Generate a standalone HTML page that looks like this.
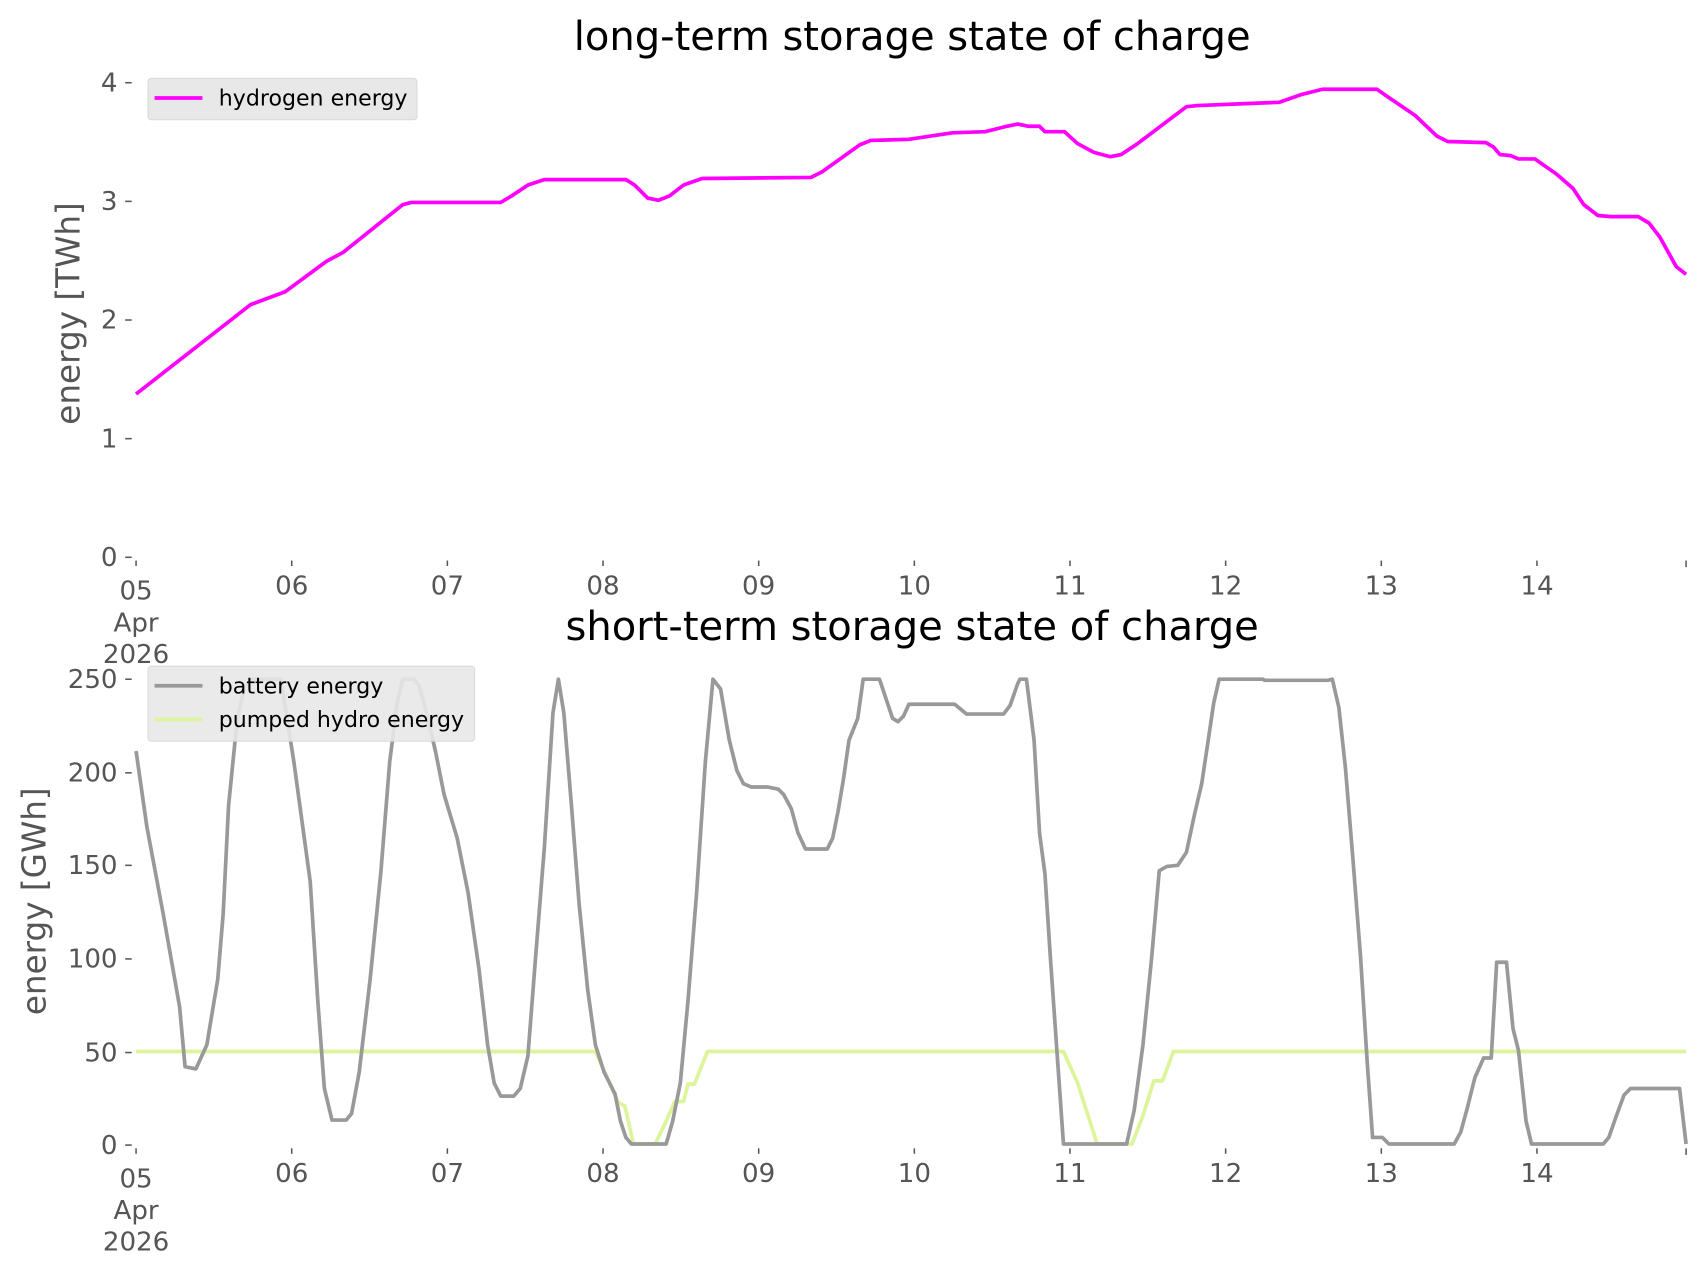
<!DOCTYPE html>
<html><head><meta charset="utf-8"><style>html,body{margin:0;padding:0;background:#fff}svg{display:block}</style></head>
<body>
<svg width="1706" height="1277" viewBox="0 0 1567.3 1173.2" preserveAspectRatio="none" xmlns="http://www.w3.org/2000/svg" font-family="DejaVu Sans, Liberation Sans, sans-serif">
<rect width="1567.3" height="1173.2" fill="#fff"/>
<!-- TOP -->
<text x="838" y="46" font-size="36.8" text-anchor="middle" fill="#000">long-term storage state of charge</text>
<g fill="#555" font-size="24" text-anchor="end">
<text x="108" y="520">0</text><text x="108" y="411">1</text><text x="108" y="302">2</text><text x="108" y="193">3</text><text x="108" y="84">4</text>
</g>
<g stroke="#555" stroke-width="1.4">
<line x1="115" y1="512" x2="121" y2="512"/><line x1="115" y1="403" x2="121" y2="403"/><line x1="115" y1="294" x2="121" y2="294"/><line x1="115" y1="185" x2="121" y2="185"/><line x1="115" y1="76" x2="121" y2="76"/>
</g>
<text transform="translate(73,288) rotate(-90)" font-size="30" fill="#555" text-anchor="middle">energy [TWh]</text>
<g stroke="#555" stroke-width="1.4">
<line x1="125" y1="515" x2="125" y2="520"/><line x1="268" y1="515" x2="268" y2="520"/><line x1="411" y1="515" x2="411" y2="520"/><line x1="554" y1="515" x2="554" y2="520"/><line x1="697" y1="515" x2="697" y2="520"/><line x1="840" y1="515" x2="840" y2="520"/><line x1="983" y1="515" x2="983" y2="520"/><line x1="1126" y1="515" x2="1126" y2="520"/><line x1="1269" y1="515" x2="1269" y2="520"/><line x1="1412" y1="515" x2="1412" y2="520"/><line x1="1549" y1="515" x2="1549" y2="521"/>
</g>
<g fill="#555" font-size="24" text-anchor="middle">
<text x="125" y="551">05</text><text x="125" y="580">Apr</text><text x="125" y="609">2026</text>
<text x="268" y="546">06</text><text x="411" y="546">07</text><text x="554" y="546">08</text><text x="697" y="546">09</text><text x="840" y="546">10</text><text x="983" y="546">11</text><text x="1126" y="546">12</text><text x="1269" y="546">13</text><text x="1412" y="546">14</text>
</g>
<polyline fill="none" stroke="#ff00ff" stroke-width="3.4" stroke-linejoin="round" points="125,362 230,280 262,268 300,240 315,232 370,188 378,186 460,186 470,180 485,170 500,165 575,165 583,170 595,182 605,184 615,180 628,170 645,164 745,163 755,158 790,133 800,129 835,128 875,122 905,121 925,116 935,114 945,116 955,116 960,121 978,121 990,132 1005,140 1020,144 1030,142 1045,132 1090,98 1100,97 1150,95 1175,94 1195,87 1215,82 1265,82 1275,89 1300,106 1320,125 1330,130 1365,131 1372,135 1378,142 1388,143 1395,146 1410,146 1430,160 1445,173 1455,188 1468,198 1480,199 1505,199 1515,205 1525,218 1540,245 1549,252"/>
<rect x="136" y="72" width="247" height="38" rx="3" fill="#e8e8e8" stroke="#d8d8d8"/>
<line x1="142" y1="90" x2="186" y2="90" stroke="#ff00ff" stroke-width="3.4"/>
<text x="201" y="97" font-size="20.3" fill="#000">hydrogen energy</text>

<!-- BOTTOM -->
<text x="838" y="588" font-size="36.8" text-anchor="middle" fill="#000">short-term storage state of charge</text>
<g fill="#555" font-size="24" text-anchor="end">
<text x="108" y="1060">0</text><text x="108" y="975">50</text><text x="108" y="889">100</text><text x="108" y="803">150</text><text x="108" y="718">200</text><text x="108" y="632">250</text>
</g>
<g stroke="#555" stroke-width="1.4">
<line x1="115" y1="1052" x2="121" y2="1052"/><line x1="115" y1="967" x2="121" y2="967"/><line x1="115" y1="881" x2="121" y2="881"/><line x1="115" y1="795" x2="121" y2="795"/><line x1="115" y1="710" x2="121" y2="710"/><line x1="115" y1="624" x2="121" y2="624"/>
</g>
<text transform="translate(42,828) rotate(-90)" font-size="30" fill="#555" text-anchor="middle">energy [GWh]</text>
<g stroke="#555" stroke-width="1.4">
<line x1="125" y1="1055" x2="125" y2="1060"/><line x1="268" y1="1055" x2="268" y2="1060"/><line x1="411" y1="1055" x2="411" y2="1060"/><line x1="554" y1="1055" x2="554" y2="1060"/><line x1="697" y1="1055" x2="697" y2="1060"/><line x1="840" y1="1055" x2="840" y2="1060"/><line x1="983" y1="1055" x2="983" y2="1060"/><line x1="1126" y1="1055" x2="1126" y2="1060"/><line x1="1269" y1="1055" x2="1269" y2="1060"/><line x1="1412" y1="1055" x2="1412" y2="1060"/><line x1="1549" y1="1055" x2="1549" y2="1061"/>
</g>
<g fill="#555" font-size="24" text-anchor="middle">
<text x="125" y="1091">05</text><text x="125" y="1120">Apr</text><text x="125" y="1149">2026</text>
<text x="268" y="1086">06</text><text x="411" y="1086">07</text><text x="554" y="1086">08</text><text x="697" y="1086">09</text><text x="840" y="1086">10</text><text x="983" y="1086">11</text><text x="1126" y="1086">12</text><text x="1269" y="1086">13</text><text x="1412" y="1086">14</text>
</g>
<polyline fill="none" stroke="#dcf59a" stroke-width="3.4" stroke-linejoin="round" points="125,966 547,966 560,995 568,1013 574,1016 582,1051 602,1051 612,1030 620,1012 628,1012 632,996 638,996 650,966 977,966 990,995 1008,1051 1040,1051 1050,1025 1060,993 1068,993 1078,966 1549,966"/>
<polyline fill="none" stroke="#999" stroke-width="3.4" stroke-linejoin="round" points="125,690 135,760 150,840 165,925 170,980 180,982 190,960 200,900 205,840 210,740 218,660 225,630 232,624 258,624 270,700 285,810 292,920 298,1000 305,1029 318,1029 323,1023 330,985 340,900 350,800 358,700 365,645 370,624 380,624 385,630 392,655 400,690 408,730 420,770 430,820 440,890 448,960 454,995 460,1007 472,1007 478,1000 485,970 492,880 500,780 508,655 513,624 518,655 525,740 532,830 540,910 547,960 555,985 565,1005 570,1030 575,1045 580,1051 612,1051 618,1030 625,995 632,920 640,820 648,700 655,624 662,633 670,680 677,708 683,720 690,723 705,723 715,725 720,730 727,743 733,765 740,780 760,780 765,770 770,745 775,715 780,680 788,660 793,624 808,624 815,645 820,660 825,663 830,658 835,647 877,647 888,656 922,656 928,648 935,628 937,624 943,624 950,680 955,765 960,803 965,880 972,980 977,1051 1035,1051 1042,1020 1050,960 1058,880 1065,800 1072,796 1082,795 1090,783 1097,750 1104,720 1110,680 1115,646 1120,624 1160,624 1162,625 1220,625 1224,624 1230,650 1236,705 1243,790 1250,880 1256,975 1261,1045 1270,1045 1276,1051 1336,1051 1342,1040 1348,1018 1355,990 1363,972 1370,972 1375,884 1384,884 1390,945 1395,965 1402,1030 1407,1051 1473,1051 1478,1045 1485,1025 1492,1006 1498,1000 1543,1000 1549,1051"/>
<rect x="136" y="612" width="300" height="69" rx="3" fill="#e8e8e8" stroke="#d8d8d8" opacity="0.9"/>
<line x1="142" y1="630" x2="186" y2="630" stroke="#999" stroke-width="3.4"/>
<text x="201" y="637" font-size="20.3" fill="#000">battery energy</text>
<line x1="142" y1="661" x2="186" y2="661" stroke="#dcf59a" stroke-width="3.4"/>
<text x="201" y="668" font-size="20.3" fill="#000">pumped hydro energy</text>
</svg>
</body></html>
